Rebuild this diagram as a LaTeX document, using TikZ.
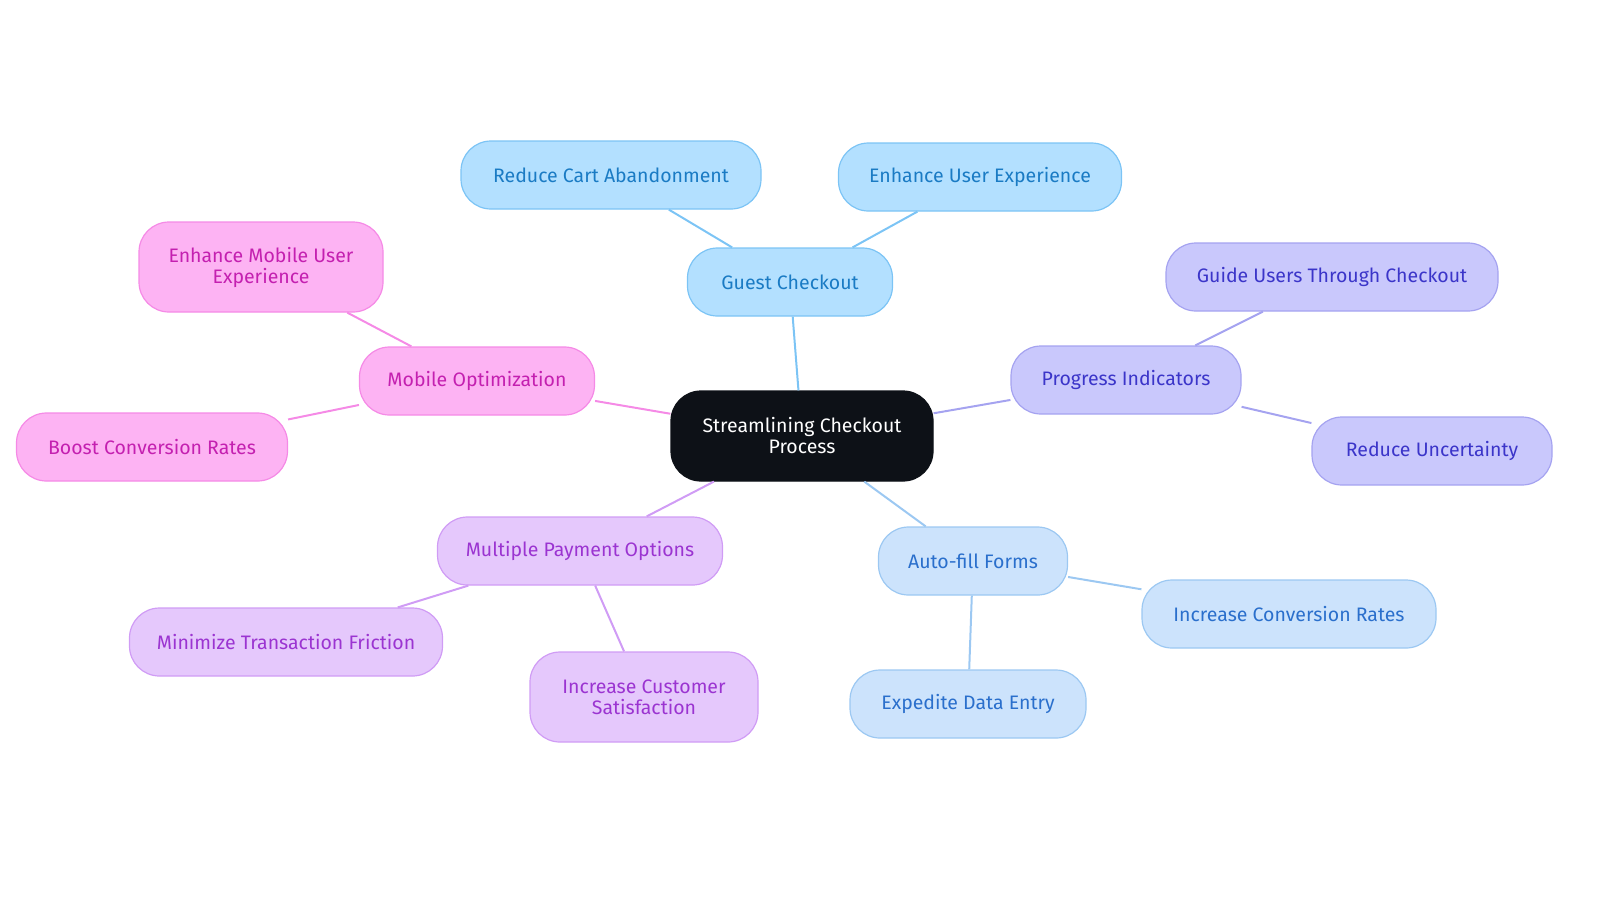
\documentclass[tikz,border=0pt]{standalone}
\usepackage{fontspec}
\setmainfont{Fira Sans}
\definecolor{bF}{HTML}{B3E0FF}\definecolor{bS}{HTML}{7CC4F5}\definecolor{bT}{HTML}{1A7BC4}
\definecolor{pF}{HTML}{C9C8FC}\definecolor{pS}{HTML}{A5A3F0}\definecolor{pT}{HTML}{3B35C9}
\definecolor{lF}{HTML}{CCE3FC}\definecolor{lS}{HTML}{9CC8F2}\definecolor{lT}{HTML}{2A6FCC}
\definecolor{vF}{HTML}{E5C8FC}\definecolor{vS}{HTML}{D09CF5}\definecolor{vT}{HTML}{9B34D1}
\definecolor{kF}{HTML}{FDB3F3}\definecolor{kS}{HTML}{F58AE6}\definecolor{kT}{HTML}{C420B0}
\definecolor{cF}{HTML}{0D1117}
\begin{document}
\begin{tikzpicture}[x=1pt,y=-1pt,
 n/.style={rounded corners=30pt,draw,line width=1.2pt,align=center,font=\fontsize{19.5}{21}\selectfont,inner sep=0pt},
 b/.style={n,fill=bF,draw=bS,text=bT},
 p/.style={n,fill=pF,draw=pS,text=pT},
 l/.style={n,fill=lF,draw=lS,text=lT},
 v/.style={n,fill=vF,draw=vS,text=vT},
 k/.style={n,fill=kF,draw=kS,text=kT},
 e/.style={line width=2pt}]
\useasboundingbox (0,0) rectangle (1600,903);
\node[n,fill=cF,draw=cF,text=white,minimum width=262pt,minimum height=90pt] (c) at (802,436) {Streamlining Checkout\\Process};
\node[b,minimum width=205pt,minimum height=68pt] (g) at (790,282) {Guest Checkout};
\node[b,minimum width=300pt,minimum height=68pt] (g1) at (611,175) {Reduce Cart Abandonment};
\node[b,minimum width=283pt,minimum height=68pt] (g2) at (980,177) {Enhance User Experience};
\node[p,minimum width=230pt,minimum height=68pt] (pi) at (1126,380) {Progress Indicators};
\node[p,minimum width=332pt,minimum height=68pt] (p1) at (1332,277) {Guide Users Through Checkout};
\node[p,minimum width=240pt,minimum height=68pt] (p2) at (1432,451) {Reduce Uncertainty};
\node[l,minimum width=189pt,minimum height=68pt] (a) at (973,561) {Auto-fill Forms};
\node[l,minimum width=294pt,minimum height=68pt] (a1) at (1289,614) {Increase Conversion Rates};
\node[l,minimum width=236pt,minimum height=68pt] (a2) at (968,704) {Expedite Data Entry};
\node[v,minimum width=285pt,minimum height=68pt] (m) at (580,551) {Multiple Payment Options};
\node[v,minimum width=313pt,minimum height=68pt] (m1) at (286,642) {Minimize Transaction Friction};
\node[v,minimum width=228pt,minimum height=90pt] (m2) at (644,697) {Increase Customer\\Satisfaction};
\node[k,minimum width=235pt,minimum height=68pt] (o) at (477,381) {Mobile Optimization};
\node[k,minimum width=244pt,minimum height=90pt] (o1) at (261,267) {Enhance Mobile User\\Experience};
\node[k,minimum width=271pt,minimum height=68pt] (o2) at (152,447) {Boost Conversion Rates};
\draw[e,bS] (c) -- (g); \draw[e,bS] (g) -- (g1); \draw[e,bS] (g) -- (g2);
\draw[e,pS] (c) -- (pi); \draw[e,pS] (pi) -- (p1); \draw[e,pS] (pi) -- (p2);
\draw[e,lS] (c) -- (a); \draw[e,lS] (a) -- (a1); \draw[e,lS] (a) -- (a2);
\draw[e,vS] (c) -- (m); \draw[e,vS] (m) -- (m1); \draw[e,vS] (m) -- (m2);
\draw[e,kS] (c) -- (o); \draw[e,kS] (o) -- (o1); \draw[e,kS] (o) -- (o2);
\end{tikzpicture}
\end{document}
